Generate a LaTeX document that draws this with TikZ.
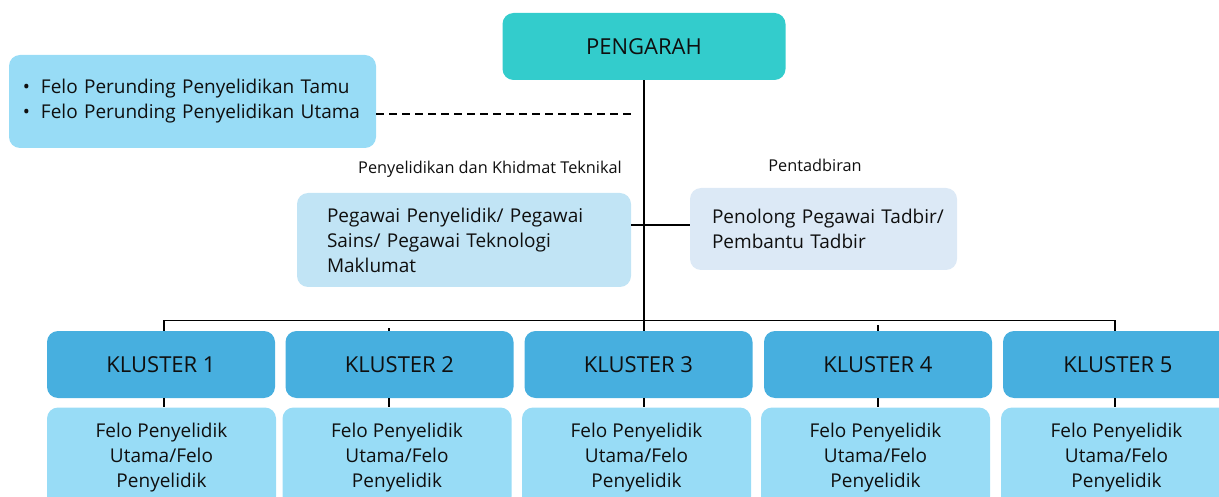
\documentclass[tikz,border=0pt]{standalone}
\usepackage{fontspec}
\setmainfont{Open Sans}
\usetikzlibrary{calc}
\definecolor{cDir}{RGB}{51,204,204}
\definecolor{cFelo}{RGB}{152,220,246}
\definecolor{cRes}{RGB}{193,228,245}
\definecolor{cAdm}{RGB}{220,233,246}
\definecolor{cKl}{RGB}{71,175,223}
\definecolor{cTxt}{RGB}{15,15,15}
\begin{document}
\begin{tikzpicture}[x=1pt,y=-1pt,
  box/.style={rounded corners=11pt, draw=none, inner sep=0pt, text=cTxt},
  line/.style={draw=black, line width=1.4pt},
  big/.style={font=\fontsize{22}{26}\selectfont},
  body/.style={font=\fontsize{19}{25}\selectfont},
  small/.style={font=\fontsize{16.3}{19}\selectfont, text=cTxt},
  kl/.style={box, fill=cKl, minimum width=228pt, minimum height=67pt, big},
  felo/.style={box, fill=cFelo, minimum width=229pt, minimum height=100pt, body, align=center}]
\useasboundingbox (0,0) rectangle (1219,497);

% top
\node[box, fill=cDir, minimum width=283pt, minimum height=67pt, big] (dir) at (644,46.5) {PENGARAH};
\node[box, fill=cFelo, minimum width=367pt, minimum height=93pt, body, text width=339pt, align=left] (lb) at (192.5,101.5)
  {\makebox[18pt][l]{\textbullet}Felo Perunding Penyelidikan Tamu\\\makebox[18pt][l]{\textbullet}Felo Perunding Penyelidikan Utama};

% middle
\node[small] (lres) at (490,169) {Penyelidikan dan Khidmat Teknikal};
\node[small] (ladm) at (815,165) {Pentadbiran};
\node[box, fill=cRes, minimum width=334pt, minimum height=94pt, body, text width=274pt, align=left] (ml) at (464,240)
  {\mbox{Pegawai Penyelidik/ Pegawai}\\\mbox{Sains/ Pegawai Teknologi}\\Maklumat};
\node[box, fill=cAdm, minimum width=267pt, minimum height=82pt, body, text width=223pt, align=left] (rm) at (823.5,229)
  {\mbox{Penolong Pegawai Tadbir/}\\\mbox{Pembantu Tadbir}};

% clusters
\node[kl] (k1) at (161,364.5) {KLUSTER 1};
\node[kl] (k2) at (399.5,364.5) {KLUSTER 2};
\node[kl] (k3) at (638.5,364.5) {KLUSTER 3};
\node[kl] (k4) at (878,364.5) {KLUSTER 4};
\node[kl, minimum width=230pt] (k5) at (1118,364.5) {KLUSTER 5};

\node[felo] (f1) at (161.5,457.5) {Felo Penyelidik\\Utama/Felo\\Penyelidik};
\node[felo] (f2) at (397,457.5) {Felo Penyelidik\\Utama/Felo\\Penyelidik};
\node[felo] (f3) at (636.5,457.5) {Felo Penyelidik\\Utama/Felo\\Penyelidik};
\node[felo] (f4) at (875.5,457.5) {Felo Penyelidik\\Utama/Felo\\Penyelidik};
\node[felo, minimum width=231pt] (f5) at (1116.5,457.5) {Felo Penyelidik\\Utama/Felo\\Penyelidik};

% connectors
\coordinate (bus) at (644,320.5);
\coordinate (dashend) at (635,114);
\coordinate (mid) at (644,225);
\draw[line] (dir.south) -- (dir.south |- k3.north);
\draw[line] ($(k1.north)+(3,0)$) |- (bus) -| ($(k5.north)+(-3,0)$);
\draw[line, dashed, dash pattern=on 8pt off 5pt] (lb.east |- dashend) -- (dashend);
\draw[line] (ml.east |- mid) -- (rm.west |- mid);
\draw[line] ($(k2.north)+(-10.5,0)$) -- ++(0,-3);
\draw[line] (k4.north) -- ++(0,-6);
\draw[line] ($(k1.south)+(3,0)$) -- ($(k1.south)+(3,9)$);
\draw[line] ($(k2.south)+(-10.5,0)$) -- ($(k2.south)+(-10.5,9)$);
\draw[line] (k3.south -| dir.south) -- ($(k3.south -| dir.south)+(0,9)$);
\draw[line] (k4.south) -- (f4.north -| k4.south);
\draw[line] ($(k5.south)+(-3,0)$) -- ($(k5.south)+(-3,9)$);
\end{tikzpicture}
\end{document}
